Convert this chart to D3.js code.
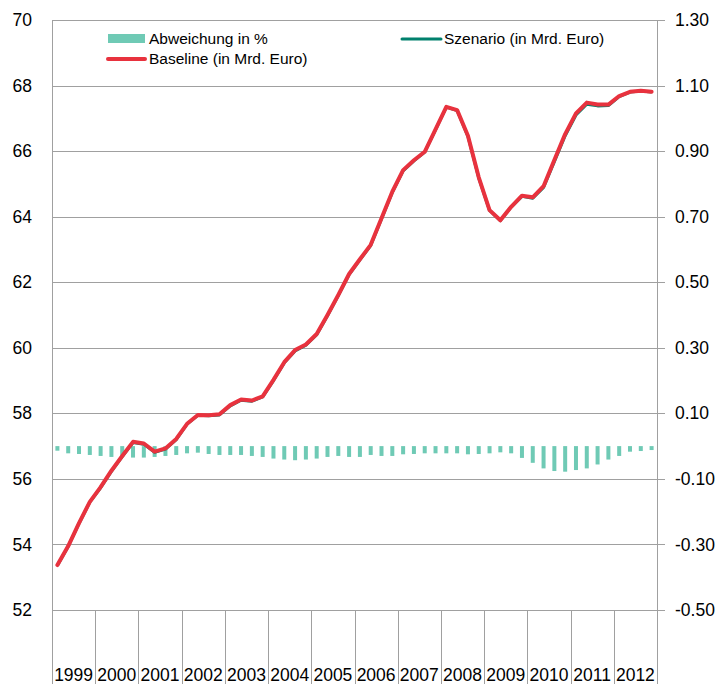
<!DOCTYPE html>
<html>
<head>
<meta charset="utf-8">
<script src="https://cdn.jsdelivr.net/npm/d3@7/dist/d3.min.js"></script>
<style>
  body { margin: 0; background: #fff; }
  svg { display: block; font-family: "Liberation Sans", "DejaVu Sans", sans-serif; }
  .tick text { fill: #000; }
</style>
</head>
<body>
<div id="chart"></div>
<script>
// ---------------------------------------------------------------------------
// Data (quarterly, 1999 Q1 - 2012 Q4)
// ---------------------------------------------------------------------------
const years = ["1999", "2000", "2001", "2002", "2003", "2004", "2005",
  "2006", "2007", "2008", "2009", "2010", "2011", "2012"];

const baseline = [
  53.37, 53.95, 54.65, 55.30, 55.75, 56.25, 56.70, 57.13,
  57.08, 56.83, 56.93, 57.22, 57.68, 57.95, 57.94, 57.97,
  58.25, 58.42, 58.39, 58.52, 59.02, 59.56, 59.93, 60.10,
  60.42, 61.00, 61.61, 62.25, 62.70, 63.14, 63.95, 64.76,
  65.42, 65.72, 65.98, 66.66, 67.35, 67.25, 66.47, 65.20,
  64.20, 63.89, 64.30, 64.64, 64.59, 64.93, 65.73, 66.52,
  67.15, 67.48, 67.42, 67.42, 67.68, 67.81, 67.84, 67.81
];

const szenario = [
  53.36, 53.94, 54.64, 55.29, 55.73, 56.23, 56.68, 57.11,
  57.06, 56.81, 56.91, 57.20, 57.67, 57.94, 57.93, 57.95,
  58.23, 58.40, 58.37, 58.50, 59.00, 59.54, 59.90, 60.08,
  60.40, 60.98, 61.59, 62.23, 62.68, 63.12, 63.93, 64.74,
  65.40, 65.70, 65.97, 66.65, 67.34, 67.24, 66.45, 65.18,
  64.19, 63.88, 64.29, 64.62, 64.56, 64.89, 65.68, 66.47,
  67.10, 67.43, 67.38, 67.39, 67.66, 67.80, 67.83, 67.80
];

const abweichung = [
  -0.014, -0.022, -0.024, -0.027, -0.030, -0.033, -0.033, -0.035,
  -0.035, -0.033, -0.030, -0.027, -0.022, -0.020, -0.024, -0.027,
  -0.027, -0.027, -0.030, -0.033, -0.038, -0.041, -0.043, -0.041,
  -0.038, -0.033, -0.030, -0.033, -0.033, -0.027, -0.030, -0.030,
  -0.025, -0.024, -0.022, -0.022, -0.022, -0.022, -0.025, -0.024,
  -0.022, -0.019, -0.022, -0.036, -0.051, -0.068, -0.076, -0.078,
  -0.073, -0.068, -0.056, -0.041, -0.030, -0.017, -0.015, -0.012
];

const leftTicks = [52, 54, 56, 58, 60, 62, 64, 66, 68, 70];
const rightTicks = [-0.5, -0.3, -0.1, 0.1, 0.3, 0.5, 0.7, 0.9, 1.1, 1.3];

const seriesNames = ["Abweichung in %", "Szenario (in Mrd. Euro)", "Baseline (in Mrd. Euro)"];

// ---------------------------------------------------------------------------
// Layout
// ---------------------------------------------------------------------------
const width = 719, height = 684;
const plot = { left: 52, right: 657, top: 20, bottom: 610 };

const colBar = "#6fcab5";
const colSzen = "#00806d";
const colBase = "#e8323e";
const colGrid = "#a0a0a0";

const quarters = baseline.map((d, i) => i);

const x = d3.scaleBand()
  .domain(quarters)
  .range([plot.left, plot.right])
  .padding(0);

const xYear = d3.scaleBand()
  .domain(years)
  .range([plot.left, plot.right])
  .padding(0);

const yL = d3.scaleLinear().domain([52, 70]).range([plot.bottom, plot.top]);
const yR = d3.scaleLinear().domain([-0.5, 1.3]).range([plot.bottom, plot.top]);

const svg = d3.select("#chart").append("svg")
  .attr("width", width)
  .attr("height", height);

// gridlines (they also act as right-axis tick marks)
svg.append("g")
  .selectAll("line")
  .data(leftTicks)
  .join("line")
  .attr("x1", plot.left)
  .attr("x2", plot.right + 8)
  .attr("y1", d => Math.round(yL(d)) + 0.5)
  .attr("y2", d => Math.round(yL(d)) + 0.5)
  .attr("stroke", colGrid)
  .attr("stroke-width", 1);

// right vertical axis line
svg.append("line")
  .attr("x1", plot.right + 0.5).attr("x2", plot.right + 0.5)
  .attr("y1", plot.top).attr("y2", plot.bottom)
  .attr("stroke", colGrid);

// category axis: vertical separators down to the bottom of the picture
const sepX = years.map(y => xYear(y)).concat([plot.right]);
svg.append("g")
  .selectAll("line")
  .data(sepX)
  .join("line")
  .attr("x1", d => Math.round(d) + 0.5)
  .attr("x2", d => Math.round(d) + 0.5)
  .attr("y1", (d, i) => (i === 0 ? plot.top : plot.bottom))
  .attr("y2", height)
  .attr("stroke", colGrid);

svg.append("g")
  .selectAll("text")
  .data(years)
  .join("text")
  .attr("x", d => xYear(d) + xYear.bandwidth() / 2)
  .attr("y", 681)
  .attr("text-anchor", "middle")
  .style("font-size", "17.5px")
  .text(d => d);

// left axis labels
const leftAxis = d3.axisLeft(yL)
  .tickValues(leftTicks)
  .tickSize(0)
  .tickPadding(20)
  .tickFormat(d => d);

svg.append("g")
  .attr("transform", "translate(" + plot.left + ",0)")
  .call(leftAxis)
  .call(g => g.select(".domain").remove())
  .selectAll("text")
  .style("font-size", "17.5px")
  .attr("font-family", null);

// right axis labels
const rightAxis = d3.axisRight(yR)
  .tickValues(rightTicks)
  .tickSize(0)
  .tickPadding(18)
  .tickFormat(d => d.toFixed(2));

svg.append("g")
  .attr("transform", "translate(" + plot.right + ",0)")
  .call(rightAxis)
  .call(g => g.select(".domain").remove())
  .selectAll("text")
  .style("font-size", "17.5px")
  .attr("font-family", null);

// bars (right axis)
const barW = 4;
svg.append("g")
  .selectAll("rect")
  .data(abweichung)
  .join("rect")
  .attr("x", (d, i) => x(i) + x.bandwidth() / 2 - barW / 2)
  .attr("y", d => yR(Math.max(0, d)))
  .attr("width", barW)
  .attr("height", d => Math.abs(yR(d) - yR(0)))
  .attr("fill", colBar);

// lines (left axis)
const line = d3.line()
  .x((d, i) => x(i) + x.bandwidth() / 2)
  .y(d => yL(d));

svg.append("path")
  .datum(szenario)
  .attr("fill", "none")
  .attr("stroke", colSzen)
  .attr("stroke-width", 3)
  .attr("stroke-linejoin", "round")
  .attr("d", line);

svg.append("path")
  .datum(baseline)
  .attr("fill", "none")
  .attr("stroke", colBase)
  .attr("stroke-width", 4)
  .attr("stroke-linejoin", "round")
  .attr("stroke-linecap", "round")
  .attr("d", line);

// legend
const legend = svg.append("g").style("font-size", "15.5px");

legend.append("rect")
  .attr("x", 108).attr("y", 34)
  .attr("width", 37).attr("height", 9)
  .attr("fill", colBar);
legend.append("text").attr("x", 149).attr("y", 44).text(seriesNames[0]);

legend.append("line")
  .attr("x1", 402).attr("x2", 441)
  .attr("y1", 39).attr("y2", 39)
  .attr("stroke", colSzen).attr("stroke-width", 3)
  .attr("stroke-linecap", "round");
legend.append("text").attr("x", 444).attr("y", 44).text(seriesNames[1]);

legend.append("line")
  .attr("x1", 108).attr("x2", 145)
  .attr("y1", 59).attr("y2", 59)
  .attr("stroke", colBase).attr("stroke-width", 4)
  .attr("stroke-linecap", "round");
legend.append("text").attr("x", 149).attr("y", 64).text(seriesNames[2]);
</script>
</body>
</html>
